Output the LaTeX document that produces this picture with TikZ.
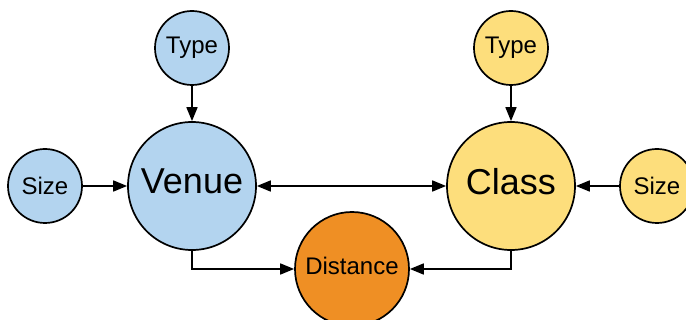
\documentclass[tikz,border=0pt]{standalone}
\usepackage{fontspec}
\setmainfont{Liberation Sans}
\usetikzlibrary{arrows.meta}
\definecolor{vblue}{HTML}{B3D4EF}
\definecolor{cyel}{HTML}{FDDE7C}
\definecolor{dorange}{HTML}{EF8F24}
\begin{document}
\begin{tikzpicture}[x=1pt,y=-1pt,
  circ/.style={circle,draw=black,line width=1.7pt,inner sep=0pt},
  small/.style={circ,minimum size=74pt,font=\fontsize{24}{26}\selectfont},
  big/.style={circ,minimum size=128pt,text depth=9pt,font=\fontsize{36}{40}\selectfont},
  mid/.style={circ,minimum size=114pt,text depth=6pt,font=\fontsize{24}{26}\selectfont},
  conn/.style={line width=1.7pt,-{Triangle[length=14pt,width=11pt]}},
  dconn/.style={line width=1.7pt,{Triangle[length=14pt,width=11pt]}-{Triangle[length=14pt,width=11pt]}}]
\useasboundingbox (0,0) rectangle (686,320);
\node[small,fill=vblue] (typeL) at (192,48) {Type};
\node[small,fill=vblue] (sizeL) at (45,186) {Size};
\node[big,fill=vblue] (venue) at (192,186) {Venue};
\node[small,fill=cyel] (typeR) at (511,48) {Type};
\node[small,fill=cyel] (sizeR) at (657,186) {Size};
\node[big,fill=cyel] (class) at (511,186) {Class};
\node[mid,fill=dorange] (dist) at (352,269) {Distance};
\draw[conn] (typeL) -- (venue);
\draw[conn] (sizeL) -- (venue);
\draw[conn] (typeR) -- (class);
\draw[conn] (sizeR) -- (class);
\draw[dconn] (venue) -- (class);
\draw[conn] (venue.south) |- (dist.west);
\draw[conn] (class.south) |- (dist.east);
\end{tikzpicture}
\end{document}
